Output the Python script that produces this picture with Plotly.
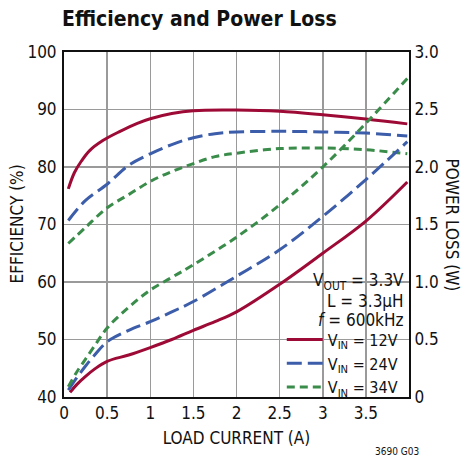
import plotly.graph_objects as go

# ---------------- data ----------------
eff_x_12 = [0.05, 0.12, 0.2, 0.3, 0.45, 0.65, 0.85, 1.0, 1.25, 1.5, 2.0, 2.5, 3.0, 3.5, 3.98]
eff_12 = [76.2, 79.0, 81.0, 82.9, 84.6, 86.2, 87.6, 88.4, 89.3, 89.8, 89.9, 89.7, 89.1, 88.35, 87.5]

eff_x_24 = [0.05, 0.25, 0.5, 0.75, 1.0, 1.25, 1.5, 1.75, 2.0, 2.5, 3.0, 3.5, 3.98]
eff_24 = [70.7, 74.2, 77.0, 80.3, 82.3, 83.9, 85.1, 85.8, 86.1, 86.2, 86.1, 85.9, 85.4]

eff_x_34 = [0.05, 0.25, 0.5, 0.75, 1.0, 1.25, 1.5, 1.75, 2.0, 2.5, 3.0, 3.5, 3.98]
eff_34 = [66.7, 69.5, 72.9, 75.2, 77.5, 79.2, 80.6, 81.8, 82.4, 83.2, 83.3, 83.0, 82.3]

loss_x_12 = [0.07, 0.15, 0.25, 0.35, 0.5, 0.75, 1.0, 1.25, 1.5, 1.75, 2.0, 2.5, 3.0, 3.5, 3.98]
loss_12 = [0.04, 0.11, 0.18, 0.24, 0.31, 0.365, 0.43, 0.50, 0.58, 0.655, 0.74, 0.98, 1.25, 1.53, 1.87]

loss_x_24 = [0.05, 0.15, 0.25, 0.35, 0.5, 0.75, 1.0, 1.25, 1.5, 2.0, 2.5, 3.0, 3.5, 3.98]
loss_24 = [0.06, 0.17, 0.27, 0.36, 0.48, 0.58, 0.655, 0.74, 0.83, 1.05, 1.28, 1.57, 1.89, 2.22]

loss_x_34 = [0.05, 0.15, 0.25, 0.35, 0.5, 0.75, 1.0, 1.25, 1.5, 2.0, 2.5, 3.0, 3.5, 3.98]
loss_34 = [0.09, 0.22, 0.33, 0.44, 0.60, 0.78, 0.93, 1.04, 1.15, 1.39, 1.67, 2.0, 2.38, 2.77]

x_tickvals = [0, 0.5, 1, 1.5, 2, 2.5, 3, 3.5]
x_ticktext = ["0", "0.5", "1", "1.5", "2", "2.5", "3", "3.5"]
eff_tickvals = [40, 50, 60, 70, 80, 90, 100]
loss_tickvals = [0, 0.5, 1.0, 1.5, 2.0, 2.5, 3.0]
loss_ticktext = ["0", "0.5", "1.0", "1.5", "2.0", "2.5", "3.0"]

series_names = ["V<sub>IN</sub> = 12V", "V<sub>IN</sub> = 24V", "V<sub>IN</sub> = 34V"]

# ---------------- style ----------------
RED = "#9E0A36"
BLUE = "#3C5DAA"
GREEN = "#3A8C4A"
FONT = "Liberation Sans Narrow, DejaVu Sans Condensed, Roboto, Arial Narrow, sans-serif"
W = 3

fig = go.Figure()

styles = [
    (RED, "solid"),
    (BLUE, "15px,6px"),
    (GREEN, "8px,5px"),
]

eff_sets = [(eff_x_12, eff_12), (eff_x_24, eff_24), (eff_x_34, eff_34)]
loss_sets = [(loss_x_12, loss_12), (loss_x_24, loss_24), (loss_x_34, loss_34)]

for (ex, ey), (lx, ly), (col, dash), name in zip(eff_sets, loss_sets, styles, series_names):
    fig.add_trace(go.Scatter(
        x=ex, y=ey, mode="lines", name=name, legendgroup=name,
        line=dict(color=col, width=W, dash=dash, shape="spline", smoothing=1.0),
        showlegend=True, yaxis="y", hoverinfo="skip"))
    fig.add_trace(go.Scatter(
        x=lx, y=ly, mode="lines", name=name, legendgroup=name,
        line=dict(color=col, width=W, dash=dash, shape="spline", smoothing=1.0),
        showlegend=False, yaxis="y2", hoverinfo="skip"))

# white box behind legend text (hides grid lines)
fig.add_shape(type="rect", xref="paper", yref="paper",
              x0=(276 - 64) / 345, x1=1, y0=0, y1=(397 - 257) / 345,
              fillcolor="white", line=dict(width=0), layer="between")

fig.update_layout(
    width=465, height=458,
    margin=dict(l=64, r=56, t=52, b=61),
    paper_bgcolor="white", plot_bgcolor="white",
    font=dict(family=FONT, size=17, color="#111"),
    title=dict(text="<b>Efficiency and Power Loss</b>", x=62 / 465, xanchor="left",
               y=1 - 19 / 458, yanchor="middle",
               font=dict(family=FONT, size=21, color="#111")),
    xaxis=dict(range=[0, 4], tickvals=x_tickvals, ticktext=x_ticktext,
               showgrid=True, gridcolor="#9a9a9a", gridwidth=1.5,
               showline=True, linecolor="#111", linewidth=2, mirror=True,
               ticks="", zeroline=False,
               tickfont=dict(size=17),
               title=dict(text="LOAD CURRENT (A)", font=dict(size=17), standoff=10)),
    yaxis=dict(range=[40, 100], tickvals=eff_tickvals,
               showgrid=True, gridcolor="#9a9a9a", gridwidth=1.5,
               showline=True, linecolor="#111", linewidth=2,
               ticks="", zeroline=False, ticklabelstandoff=2, tickfont=dict(size=17)),
    yaxis2=dict(range=[0, 3.0], tickvals=loss_tickvals, ticktext=loss_ticktext,
                overlaying="y", side="right", showgrid=False,
                showline=True, linecolor="#111", linewidth=2,
                ticks="", zeroline=False, tickfont=dict(size=17)),
    legend=dict(x=0.982, xanchor="right", y=-0.022, yanchor="bottom",
                bgcolor="rgba(0,0,0,0)", font=dict(size=16),
                itemwidth=36, tracegroupgap=0),
    showlegend=True,
    hovermode=False,
)

# axis titles and notes
fig.add_annotation(text="EFFICIENCY (%)", xref="paper", yref="paper",
                   x=(16 - 64) / 345, y=0.5, textangle=-90, showarrow=False,
                   xanchor="center", yanchor="middle", font=dict(size=17))
fig.add_annotation(text="POWER LOSS (W)", xref="paper", yref="paper",
                   x=(452 - 64) / 345, y=0.5, textangle=90, showarrow=False,
                   xanchor="center", yanchor="middle", font=dict(size=17))
for txt, py in [("V<sub>OUT</sub> = 3.3V", 281), ("L = 3.3µH", 301), ("<i>f</i> = 600kHz", 320)]:
    fig.add_annotation(text=txt, xref="paper", yref="paper",
                       x=(406 - 64) / 345, y=(397 - py) / 345, showarrow=False,
                       xanchor="right", yanchor="middle", font=dict(size=17))
fig.add_annotation(text="3690 G03", xref="paper", yref="paper",
                   x=(421 - 64) / 345, y=-(451 - 397) / 345, showarrow=False,
                   xanchor="right", yanchor="middle", font=dict(size=10))

fig.write_html("out.html", config={"displayModeBar": False, "staticPlot": True},
               post_script="document.body.style.margin='0px';")
